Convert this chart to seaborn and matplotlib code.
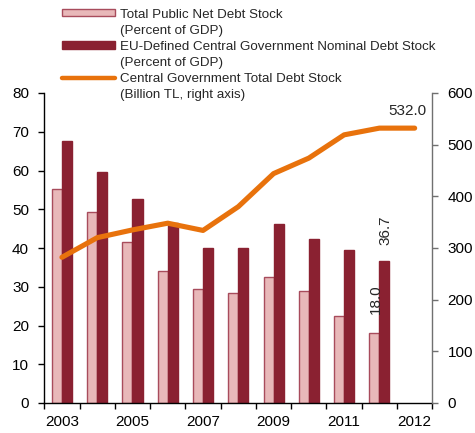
import numpy as np
import pandas as pd
import matplotlib
matplotlib.use("Agg")
import matplotlib.pyplot as plt
import seaborn as sns
from matplotlib.patches import Patch
from matplotlib.lines import Line2D
from matplotlib.ticker import FixedLocator

# ---- data ----
categories = ["2003", "2004", "2005", "2006", "2007", "2008", "2009",
              "2010", "2011", "2012 Q", "2012"]
tick_labels = ["2003", "", "2005", "", "2007", "", "2009", "", "2011", "", "2012"]
net_debt = [55.2, 49.2, 41.6, 34.1, 29.5, 28.3, 32.6, 29.0, 22.5, 18.0, np.nan]
eu_debt = [67.6, 59.7, 52.6, 46.4, 39.9, 40.0, 46.2, 42.4, 39.5, 36.7, np.nan]
total_debt = [282, 320, 335, 348, 334, 380, 444, 474, 519, 532, 532]
series_names = ["Total Public Net Debt Stock",
                "EU-Defined Central Government Nominal Debt Stock",
                "Central Government Total Debt Stock"]
series_notes = ["(Percent of GDP)", "(Percent of GDP)", "(Billion TL, right axis)"]

PINK = "#E8B8B9"
PINK_EDGE = "#A84C5C"
DARK = "#8A2131"
ORANGE = "#E8720C"

sns.set_theme(style="ticks")
plt.rcParams["font.family"] = ["Liberation Sans", "DejaVu Sans"]

df = pd.DataFrame({
    "year": categories * 2,
    "value": net_debt + eu_debt,
    "series": [series_names[0]] * len(categories) + [series_names[1]] * len(categories),
})

fig = plt.figure(figsize=(4.75, 4.33), dpi=100)
ax = fig.add_axes([44.3 / 475, 30 / 433, (432.3 - 44.3) / 475, (403 - 93) / 433])

sns.barplot(data=df, x="year", y="value", hue="series", order=categories,
            hue_order=series_names[:2], palette=[PINK, DARK], width=0.57,
            errorbar=None, legend=False, linewidth=1.0, saturation=1, ax=ax)
for patch in ax.containers[0]:
    patch.set_edgecolor(PINK_EDGE)
for patch in ax.containers[1]:
    patch.set_edgecolor(DARK)

ax2 = ax.twinx()
xpos = np.arange(len(categories))
sns.lineplot(x=xpos, y=total_debt, color=ORANGE, linewidth=3.7, ax=ax2)

# axes formatting
ax.set_ylim(0, 80)
ax.set_yticks(np.arange(0, 81, 10))
ax2.set_ylim(0, 600)
ax2.set_yticks(np.arange(0, 601, 100))
ax.set_xlim(-0.5, len(categories) - 0.5)
ax2.set_xlim(-0.5, len(categories) - 0.5)
ax.set_xticks(xpos)
ax.set_xticklabels(tick_labels)
ax.xaxis.set_minor_locator(FixedLocator(np.arange(-0.5, len(categories), 1.0)))
ax.tick_params(axis="x", which="major", length=0, pad=9, labelsize=11, colors="black")
ax.tick_params(axis="x", which="minor", length=4, width=1, color="black")
ax.tick_params(axis="y", length=4, width=1, pad=7, labelsize=11, colors="black")
ax2.tick_params(axis="y", length=4, width=1, pad=7, labelsize=11, colors="black")
ax2.tick_params(axis="y", color="#707070")
ax.set_xlabel("")
ax.set_ylabel("")
ax2.set_ylabel("")
for sp in ["top", "right"]:
    ax.spines[sp].set_visible(False)
ax2.spines["top"].set_visible(False)
ax2.spines["left"].set_visible(False)
ax2.spines["bottom"].set_visible(False)
ax.spines["left"].set_color("black")
ax.spines["bottom"].set_color("black")
ax2.spines["right"].set_color("#707070")
for sp in ax.spines.values():
    sp.set_linewidth(1)
ax2.spines["right"].set_linewidth(1)

# annotations
ax2.annotate(f"{total_debt[-1]:.1f}", xy=(xpos[-1], total_debt[-1]), xytext=(-5, 12),
             textcoords="offset points", ha="center", va="center", fontsize=11)
p_net = ax.containers[0][9]
p_eu = ax.containers[1][9]
ax.annotate(f"{net_debt[9]:.1f}", xy=(p_net.get_x() + p_net.get_width() / 2, net_debt[9]),
            xytext=(1, 13.5), textcoords="offset points", rotation=90,
            ha="center", va="bottom", fontsize=11)
ax.annotate(f"{eu_debt[9]:.1f}", xy=(p_eu.get_x() + p_eu.get_width() / 2, eu_debt[9]),
            xytext=(1, 11.5), textcoords="offset points", rotation=90,
            ha="center", va="bottom", fontsize=11)

# legend: first line carries the handle, second line has an invisible handle
main_handles = [Patch(facecolor=PINK, edgecolor=PINK_EDGE, linewidth=1),
                Patch(facecolor=DARK, edgecolor=DARK, linewidth=1),
                Line2D([], [], color=ORANGE, linewidth=3.2)]
handles, labels = [], []
for h, name, note in zip(main_handles, series_names, series_notes):
    handles += [h, Patch(facecolor="none", edgecolor="none")]
    labels += [name, note]
fig.legend(handles=handles, labels=labels, loc="upper left",
           bbox_to_anchor=(62 / 475, 1 - 8.5 / 433), frameon=False, fontsize=9.6,
           handlelength=3.98, handleheight=0.48, handletextpad=0.375,
           labelspacing=0.31, borderaxespad=0, borderpad=0)

fig.savefig("out.png", dpi=100)
